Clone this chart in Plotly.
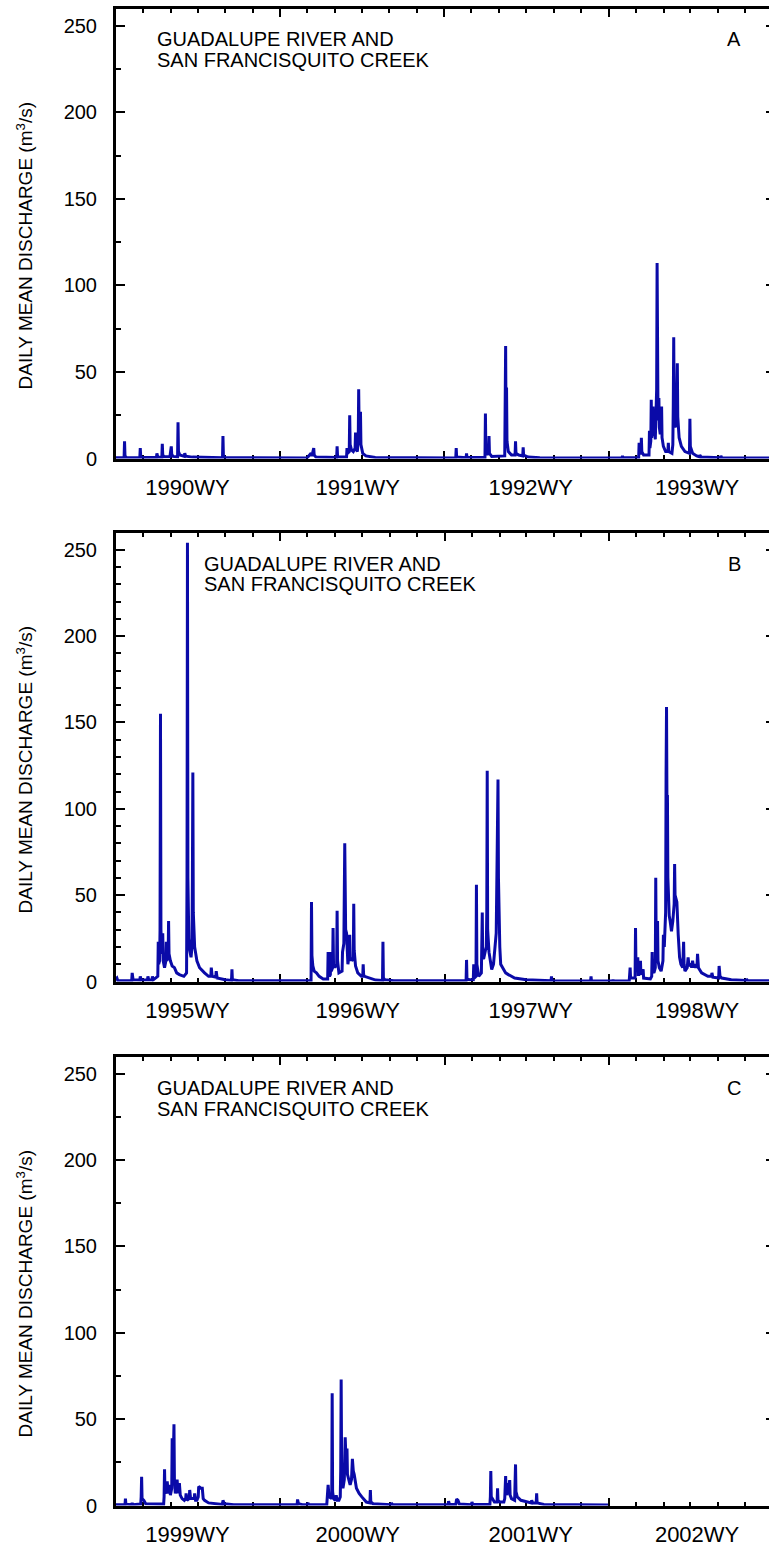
import plotly.graph_objects as go

# Daily mean discharge, Guadalupe River + San Francisquito Creek (m3/s)
# Panel A: water years 1990-1993
flow_1990_1993 = [
    ("1989-10-01", 0.4), ("1989-10-19", 0.5), ("1989-10-20", 10), ("1989-10-21", 1.5), ("1989-10-24", 0.6),
    ("1989-11-23", 0.5), ("1989-11-24", 6), ("1989-11-25", 1.2), ("1989-11-28", 0.6),
    ("1989-12-30", 0.6), ("1989-12-31", 3), ("1990-01-02", 0.8),
    ("1990-01-11", 0.7), ("1990-01-12", 8.5), ("1990-01-13", 2), ("1990-01-16", 1),
    ("1990-01-29", 1), ("1990-01-31", 4), ("1990-02-01", 7), ("1990-02-02", 2.5), ("1990-02-05", 1.2),
    ("1990-02-15", 1), ("1990-02-16", 21), ("1990-02-17", 4), ("1990-02-20", 2),
    ("1990-03-02", 1.2), ("1990-03-03", 3), ("1990-03-05", 1.3), ("1990-03-20", 0.8),
    ("1990-05-26", 0.4), ("1990-05-27", 13), ("1990-05-28", 1.5), ("1990-06-01", 0.4),
    ("1990-11-30", 0.3), ("1990-12-09", 3), ("1990-12-11", 1.5), ("1990-12-15", 6), ("1990-12-16", 2), ("1990-12-20", 0.8),
    ("1991-02-04", 0.6), ("1991-02-05", 7), ("1991-02-06", 1.5), ("1991-02-10", 0.8),
    ("1991-02-26", 0.8), ("1991-02-27", 6), ("1991-02-28", 3), ("1991-03-04", 4), ("1991-03-05", 25),
    ("1991-03-06", 8), ("1991-03-09", 5), ("1991-03-13", 4), ("1991-03-17", 6), ("1991-03-18", 15),
    ("1991-03-19", 6), ("1991-03-22", 4), ("1991-03-24", 10), ("1991-03-25", 40), ("1991-03-26", 18),
    ("1991-03-28", 12), ("1991-03-29", 27), ("1991-03-30", 8), ("1991-04-03", 3), ("1991-04-10", 1.5),
    ("1991-05-01", 0.6),
    ("1991-10-27", 0.3), ("1991-10-28", 6), ("1991-10-29", 0.8),
    ("1991-11-19", 0.4), ("1991-11-20", 3), ("1991-11-21", 0.6),
    ("1991-12-31", 0.6), ("1992-01-01", 26), ("1992-01-02", 4), ("1992-01-05", 2), ("1992-01-08", 4),
    ("1992-01-09", 13), ("1992-01-10", 3), ("1992-01-15", 1.2),
    ("1992-02-13", 1.5), ("1992-02-14", 30), ("1992-02-15", 65), ("1992-02-16", 12), ("1992-02-17", 41),
    ("1992-02-18", 10), ("1992-02-21", 4), ("1992-02-28", 2),
    ("1992-03-07", 2), ("1992-03-08", 10), ("1992-03-09", 3), ("1992-03-15", 2),
    ("1992-03-24", 1.5), ("1992-03-25", 6.5), ("1992-03-26", 2), ("1992-04-05", 0.8), ("1992-05-01", 0.4),
    ("1992-10-31", 0.3), ("1992-11-01", 1.5), ("1992-11-02", 0.4),
    ("1992-12-07", 0.5), ("1992-12-08", 9), ("1992-12-09", 3), ("1992-12-12", 3), ("1992-12-13", 12),
    ("1992-12-14", 4), ("1992-12-18", 2),
    ("1992-12-30", 2), ("1992-12-31", 16), ("1993-01-01", 6), ("1993-01-03", 10), ("1993-01-04", 34),
    ("1993-01-05", 12), ("1993-01-07", 16), ("1993-01-08", 30), ("1993-01-09", 14), ("1993-01-11", 20),
    ("1993-01-13", 11), ("1993-01-15", 24), ("1993-01-16", 40), ("1993-01-17", 113), ("1993-01-18", 42),
    ("1993-01-19", 26), ("1993-01-20", 22), ("1993-01-21", 35), ("1993-01-22", 18), ("1993-01-24", 14),
    ("1993-01-26", 20), ("1993-01-27", 30), ("1993-01-28", 12), ("1993-01-31", 7), ("1993-02-05", 4),
    ("1993-02-10", 4), ("1993-02-11", 9), ("1993-02-12", 4), ("1993-02-19", 3), ("1993-02-21", 8),
    ("1993-02-22", 30), ("1993-02-23", 70), ("1993-02-24", 28), ("1993-02-26", 18), ("1993-03-01", 22),
    ("1993-03-03", 55), ("1993-03-04", 24), ("1993-03-07", 12), ("1993-03-12", 7), ("1993-03-20", 4),
    ("1993-03-30", 3), ("1993-03-31", 23), ("1993-04-01", 7), ("1993-04-06", 3), ("1993-04-15", 1.5),
    ("1993-04-21", 1), ("1993-04-22", 2), ("1993-04-25", 0.8),
    ("1993-06-07", 0.4), ("1993-06-08", 1.5), ("1993-06-10", 0.4), ("1993-09-30", 0.3),
]

# Panel B: water years 1995-1998
flow_1995_1998 = [
    ("1994-10-01", 1.5), ("1994-10-03", 2), ("1994-10-05", 0.5),
    ("1994-11-05", 0.6), ("1994-11-06", 5), ("1994-11-08", 1),
    ("1994-11-23", 0.8), ("1994-11-24", 3), ("1994-11-26", 0.8),
    ("1994-12-10", 0.8), ("1994-12-11", 3), ("1994-12-13", 0.8),
    ("1994-12-20", 0.8), ("1994-12-21", 3), ("1994-12-23", 1),
    ("1995-01-02", 3), ("1995-01-03", 23), ("1995-01-04", 10), ("1995-01-06", 12), ("1995-01-07", 30),
    ("1995-01-08", 155), ("1995-01-09", 30), ("1995-01-11", 16), ("1995-01-13", 28), ("1995-01-14", 12),
    ("1995-01-17", 8), ("1995-01-20", 12), ("1995-01-21", 23), ("1995-01-22", 12), ("1995-01-25", 14),
    ("1995-01-26", 35), ("1995-01-27", 16), ("1995-01-30", 12), ("1995-02-03", 9), ("1995-02-08", 8),
    ("1995-02-13", 5), ("1995-02-19", 4), ("1995-03-01", 3),
    ("1995-03-07", 5), ("1995-03-08", 60), ("1995-03-09", 254), ("1995-03-10", 60), ("1995-03-12", 25),
    ("1995-03-14", 18), ("1995-03-17", 14), ("1995-03-19", 20), ("1995-03-20", 60), ("1995-03-21", 121),
    ("1995-03-22", 40), ("1995-03-25", 20), ("1995-03-30", 12), ("1995-04-05", 8), ("1995-04-16", 5),
    ("1995-04-25", 3), ("1995-04-30", 3), ("1995-05-01", 8), ("1995-05-03", 3), ("1995-05-11", 2.5),
    ("1995-05-12", 6), ("1995-05-14", 2), ("1995-06-01", 1),
    ("1995-06-15", 0.6), ("1995-06-16", 7), ("1995-06-17", 1), ("1995-07-01", 0.4),
    ("1995-12-09", 0.4), ("1995-12-10", 46), ("1995-12-11", 15), ("1995-12-13", 9), ("1995-12-16", 6),
    ("1995-12-21", 5), ("1995-12-27", 3), ("1996-01-05", 1.5),
    ("1996-01-15", 1.5), ("1996-01-16", 17), ("1996-01-17", 4), ("1996-01-19", 3), ("1996-01-21", 4),
    ("1996-01-22", 17), ("1996-01-23", 6), ("1996-01-26", 8), ("1996-01-27", 31), ("1996-01-28", 10),
    ("1996-01-31", 8), ("1996-02-04", 10), ("1996-02-05", 41), ("1996-02-06", 12), ("1996-02-09", 5),
    ("1996-02-16", 6), ("1996-02-17", 17), ("1996-02-20", 22), ("1996-02-21", 60), ("1996-02-22", 80),
    ("1996-02-23", 55), ("1996-02-24", 30), ("1996-02-26", 28), ("1996-02-29", 10), ("1996-03-02", 14),
    ("1996-03-04", 27), ("1996-03-05", 14), ("1996-03-08", 12), ("1996-03-09", 13), ("1996-03-12", 12),
    ("1996-03-13", 45), ("1996-03-14", 18), ("1996-03-17", 9), ("1996-03-22", 5), ("1996-03-30", 3),
    ("1996-04-02", 3), ("1996-04-03", 10), ("1996-04-04", 4), ("1996-04-06", 3), ("1996-04-19", 2),
    ("1996-05-01", 0.8), ("1996-05-16", 0.6), ("1996-05-17", 23), ("1996-05-18", 2), ("1996-05-21", 1),
    ("1996-06-10", 0.5),
    ("1996-11-18", 0.5), ("1996-11-19", 12.5), ("1996-11-20", 1.5), ("1996-11-25", 1),
    ("1996-12-04", 1), ("1996-12-05", 10), ("1996-12-06", 2), ("1996-12-10", 3), ("1996-12-11", 56),
    ("1996-12-12", 10), ("1996-12-14", 5), ("1996-12-16", 3), ("1996-12-22", 5), ("1996-12-23", 15),
    ("1996-12-24", 40), ("1996-12-25", 14), ("1996-12-27", 13), ("1996-12-31", 18), ("1997-01-02", 20),
    ("1997-01-03", 40), ("1997-01-04", 122), ("1997-01-05", 30), ("1997-01-08", 17), ("1997-01-11", 12),
    ("1997-01-14", 7), ("1997-01-18", 10), ("1997-01-21", 20), ("1997-01-24", 28), ("1997-01-26", 71),
    ("1997-01-28", 117), ("1997-01-29", 60), ("1997-01-30", 35), ("1997-02-01", 20), ("1997-02-03", 10),
    ("1997-02-08", 8), ("1997-02-14", 5), ("1997-02-20", 4), ("1997-03-06", 2), ("1997-04-01", 1),
    ("1997-05-26", 0.4), ("1997-05-27", 3), ("1997-05-28", 0.4),
    ("1997-08-22", 0.3), ("1997-08-23", 3), ("1997-08-24", 0.3),
    ("1997-10-10", 0.3), ("1997-10-11", 1), ("1997-10-12", 0.3),
    ("1997-11-16", 0.4), ("1997-11-18", 8), ("1997-11-19", 2), ("1997-11-29", 2), ("1997-11-30", 31),
    ("1997-12-01", 10), ("1997-12-03", 8), ("1997-12-05", 14), ("1997-12-06", 4), ("1997-12-08", 4),
    ("1997-12-10", 5), ("1997-12-11", 12), ("1997-12-12", 4), ("1997-12-17", 7), ("1997-12-18", 2),
    ("1998-01-02", 1.5), ("1998-01-05", 3), ("1998-01-06", 17), ("1998-01-07", 6), ("1998-01-10", 5),
    ("1998-01-13", 8), ("1998-01-14", 60), ("1998-01-15", 20), ("1998-01-17", 12), ("1998-01-18", 35),
    ("1998-01-19", 12), ("1998-01-22", 8), ("1998-01-26", 6), ("1998-01-30", 12), ("1998-01-31", 27),
    ("1998-02-02", 20), ("1998-02-04", 31), ("1998-02-05", 40), ("1998-02-06", 120), ("1998-02-07", 159),
    ("1998-02-08", 100), ("1998-02-09", 108), ("1998-02-10", 60), ("1998-02-11", 45), ("1998-02-13", 38),
    ("1998-02-15", 35), ("1998-02-18", 29), ("1998-02-21", 35), ("1998-02-22", 39), ("1998-02-24", 45),
    ("1998-02-25", 68), ("1998-02-26", 50), ("1998-03-02", 46), ("1998-03-03", 33), ("1998-03-05", 27),
    ("1998-03-08", 14), ("1998-03-11", 10), ("1998-03-15", 8), ("1998-03-16", 15), ("1998-03-17", 23),
    ("1998-03-18", 10), ("1998-03-20", 6), ("1998-03-25", 8), ("1998-03-27", 14), ("1998-03-29", 9),
    ("1998-04-02", 10), ("1998-04-04", 8), ("1998-04-06", 12), ("1998-04-08", 8), ("1998-04-11", 10),
    ("1998-04-14", 8), ("1998-04-16", 10), ("1998-04-17", 16), ("1998-04-19", 8), ("1998-04-26", 5),
    ("1998-05-10", 3), ("1998-05-18", 3), ("1998-05-19", 5), ("1998-05-21", 2.5), ("1998-06-03", 2),
    ("1998-06-04", 9), ("1998-06-06", 3), ("1998-06-10", 2), ("1998-07-01", 1), ("1998-08-03", 0.6),
    ("1998-08-04", 1.5), ("1998-08-06", 0.5), ("1998-09-30", 0.4),
]

# Panel C: water years 1999-2001 (record ends 2001-09-30)
flow_1999_2002 = [
    ("1998-10-01", 0.5), ("1998-10-21", 0.5), ("1998-10-22", 4), ("1998-10-23", 0.8),
    ("1998-11-05", 0.5), ("1998-11-06", 1.5), ("1998-11-07", 0.5),
    ("1998-11-25", 0.8), ("1998-11-26", 5), ("1998-11-27", 16.6), ("1998-11-28", 4), ("1998-12-02", 3),
    ("1998-12-06", 1),
    ("1999-01-15", 0.8), ("1999-01-16", 5), ("1999-01-17", 21), ("1999-01-18", 8), ("1999-01-21", 7),
    ("1999-01-23", 14), ("1999-01-25", 7), ("1999-01-28", 12), ("1999-01-30", 6), ("1999-02-02", 10),
    ("1999-02-03", 39), ("1999-02-05", 20), ("1999-02-07", 47), ("1999-02-08", 15), ("1999-02-10", 7),
    ("1999-02-12", 10), ("1999-02-14", 15), ("1999-02-16", 7), ("1999-02-19", 13), ("1999-02-21", 6),
    ("1999-02-25", 4), ("1999-03-02", 3), ("1999-03-05", 4), ("1999-03-06", 7), ("1999-03-08", 3),
    ("1999-03-13", 4), ("1999-03-14", 9), ("1999-03-16", 4), ("1999-03-20", 4), ("1999-03-24", 4),
    ("1999-03-25", 7), ("1999-03-27", 3), ("1999-03-30", 3), ("1999-04-02", 5), ("1999-04-03", 11),
    ("1999-04-06", 10), ("1999-04-08", 10), ("1999-04-11", 10), ("1999-04-13", 4), ("1999-04-16", 3),
    ("1999-04-25", 1.5), ("1999-05-26", 0.6), ("1999-05-27", 3), ("1999-05-30", 1), ("1999-06-20", 0.5),
    ("1999-07-15", 0.4),
    ("1999-11-08", 0.4), ("1999-11-09", 3.5), ("1999-11-11", 1), ("1999-11-20", 0.5),
    ("1999-12-01", 0.5), ("1999-12-02", 1.5), ("1999-12-04", 0.5),
    ("2000-01-13", 0.6), ("2000-01-14", 5), ("2000-01-16", 12), ("2000-01-18", 5), ("2000-01-24", 4),
    ("2000-01-25", 65), ("2000-01-26", 8), ("2000-01-28", 4), ("2000-02-01", 3), ("2000-02-03", 6),
    ("2000-02-05", 3), ("2000-02-09", 3), ("2000-02-12", 5), ("2000-02-13", 20), ("2000-02-14", 73),
    ("2000-02-15", 25), ("2000-02-17", 12), ("2000-02-18", 10), ("2000-02-21", 15), ("2000-02-22", 25),
    ("2000-02-23", 39.5), ("2000-02-25", 25), ("2000-02-27", 33), ("2000-02-28", 18), ("2000-03-02", 14),
    ("2000-03-05", 12), ("2000-03-08", 15), ("2000-03-10", 27), ("2000-03-12", 20), ("2000-03-14", 18),
    ("2000-03-19", 10), ("2000-03-25", 7), ("2000-03-31", 5), ("2000-04-10", 2), ("2000-04-18", 1.5),
    ("2000-04-19", 9), ("2000-04-20", 2), ("2000-04-25", 1), ("2000-06-04", 0.5), ("2000-06-05", 1.5),
    ("2000-06-07", 0.5),
    ("2000-10-09", 0.4), ("2000-10-10", 2.5), ("2000-10-12", 0.6), ("2000-10-26", 0.6), ("2000-10-28", 3.7),
    ("2000-10-31", 3), ("2000-11-03", 0.8), ("2000-11-30", 0.5), ("2000-12-01", 2), ("2000-12-03", 0.6),
    ("2001-01-10", 0.6), ("2001-01-11", 5), ("2001-01-12", 20), ("2001-01-13", 5), ("2001-01-15", 4),
    ("2001-01-20", 2), ("2001-01-26", 2), ("2001-01-27", 10), ("2001-01-28", 3), ("2001-02-01", 2),
    ("2001-02-10", 2), ("2001-02-12", 4), ("2001-02-14", 17), ("2001-02-15", 8), ("2001-02-17", 6),
    ("2001-02-18", 13), ("2001-02-20", 8), ("2001-02-23", 14.7), ("2001-02-24", 6), ("2001-02-27", 4),
    ("2001-03-06", 3), ("2001-03-07", 10), ("2001-03-08", 23.8), ("2001-03-09", 8), ("2001-03-12", 5),
    ("2001-03-20", 3), ("2001-04-03", 2), ("2001-04-12", 1.5), ("2001-04-13", 3), ("2001-04-15", 1.5),
    ("2001-04-23", 1.5), ("2001-04-24", 7), ("2001-04-25", 1.5), ("2001-05-10", 0.6), ("2001-09-30", 0.3),
]

# Water-year labels and where they sit along each time axis
wy_labels_a = ["1990WY", "1991WY", "1992WY", "1993WY"]
wy_label_dates_a = ["1990-03-09", "1991-03-23", "1992-04-11", "1993-04-16"]
wy_labels_b = ["1995WY", "1996WY", "1997WY", "1998WY"]
wy_label_dates_b = ["1995-03-09", "1996-03-22", "1997-04-11", "1998-04-16"]
wy_labels_c = ["1999WY", "2000WY", "2001WY", "2002WY"]
wy_label_dates_c = ["1999-03-09", "2000-03-22", "2001-04-11", "2002-04-16"]

panels = [
    dict(series=flow_1990_1993, start="1989-10-01", end="1993-09-23",
         labels=wy_labels_a, label_dates=wy_label_dates_a, letter="A",
         minor_dy=25, top=8.5, bottom=458.5, title_x=155),
    dict(series=flow_1995_1998, start="1994-10-01", end="1998-09-23",
         labels=wy_labels_b, label_dates=wy_label_dates_b, letter="B",
         minor_dy=10, top=532.5, bottom=981.5, title_x=202),
    dict(series=flow_1999_2002, start="1998-10-01", end="2002-09-23",
         labels=wy_labels_c, label_dates=wy_label_dates_c, letter="C",
         minor_dy=25, top=1056.5, bottom=1505.5, title_x=155),
]

W, H = 769, 1549
LEFT = 116
FONT = "Liberation Sans"
LINE_BLUE = "#0A0AA8"
Y_TITLE = "DAILY MEAN DISCHARGE (m<sup>3</sup>/s)"

fig = go.Figure()
layout = dict(
    width=W, height=H, margin=dict(l=0, r=0, t=0, b=0, autoexpand=False),
    paper_bgcolor="white", plot_bgcolor="white", showlegend=False,
    font=dict(family=FONT, color="black", size=20),
)
annotations = []

for i, p in enumerate(panels):
    n = i + 1
    xa, ya = f"x{n if n > 1 else ''}", f"y{n if n > 1 else ''}"
    xl, yr = f"x{n + 3}", f"y{n + 3}"
    dom_y = [1 - p["bottom"] / H, 1 - p["top"] / H]
    dom_x = [LEFT / W, 1.0]
    x_rng = [p["start"], p["end"]]
    y_rng = [0, 260]
    year0 = int(p["start"][:4])
    year_starts = [f"{year0 + k}-10-01" for k in range(0, 4)]

    dates = [d for d, _ in p["series"]]
    vals = [v for _, v in p["series"]]
    fig.add_trace(go.Scatter(x=dates, y=vals, mode="lines", xaxis=xa, yaxis=ya,
                             line=dict(color=LINE_BLUE, width=3), hoverinfo="skip"))
    # empty traces that attach the label axis and the right-hand tick axis
    fig.add_trace(go.Scatter(x=[], y=[], xaxis=xl, yaxis=ya, mode="lines"))
    fig.add_trace(go.Scatter(x=[], y=[], xaxis=xa, yaxis=yr, mode="lines"))

    key = lambda a, pre: pre + "axis" + a[1:]
    layout[key(xa, "x")] = dict(
        type="date", domain=dom_x, anchor=ya, range=x_rng, showgrid=False, zeroline=False,
        automargin=False,
        showline=True, linewidth=3, linecolor="black", mirror="ticks", layer="below traces",
        tickmode="array", tickvals=year_starts, ticks="inside", ticklen=8, tickwidth=2,
        tickcolor="black", showticklabels=False,
        minor=dict(ticks="inside", dtick="M2", tick0=p["start"], ticklen=4, tickwidth=2,
                   tickcolor="black", showgrid=False),
    )
    layout[key(xl, "x")] = dict(
        type="date", domain=dom_x, anchor=ya, overlaying=xa, range=x_rng, side="bottom",
        showgrid=False, zeroline=False, showline=False, ticks="", automargin=False,
        tickmode="array", tickvals=p["label_dates"], ticktext=p["labels"],
        tickfont=dict(family=FONT, size=22, color="black"), ticklabelstandoff=13,
    )
    layout[key(ya, "y")] = dict(
        domain=dom_y, anchor=xa, range=y_rng, showgrid=False, zeroline=False,
        automargin=False,
        showline=True, linewidth=3, linecolor="black", layer="below traces",
        tickmode="array", tickvals=[0, 50, 100, 150, 200, 250], ticks="inside", ticklen=9,
        tickwidth=2, tickcolor="black", tickfont=dict(family=FONT, size=20, color="black"),
        ticklabelstandoff=12,
        minor=dict(ticks="inside", dtick=p["minor_dy"], tick0=0, ticklen=5, tickwidth=2,
                   tickcolor="black", showgrid=False),
    )
    layout[key(yr, "y")] = dict(
        domain=dom_y, anchor=xa, overlaying=ya, side="right", range=y_rng,
        showgrid=False, zeroline=False, showline=False, showticklabels=False,
        automargin=False,
        tickmode="array", tickvals=[50, 100, 150, 200, 250], ticks="inside",
        ticklen=3, tickwidth=2, tickcolor="black",
    )

    # vertical axis title, set a little below the panel centre
    annotations.append(dict(
        text=Y_TITLE, xref="paper", yref="paper", x=24 / W,
        y=1 - (p["top"] + 237) / H, xanchor="center", yanchor="middle", textangle=-90,
        showarrow=False, font=dict(family=FONT, size=19, color="black")))
    for j, line in enumerate(["GUADALUPE RIVER AND", "SAN FRANCISQUITO CREEK"]):
        annotations.append(dict(
            text=line, xref="paper", yref="paper", x=p["title_x"] / W,
            y=1 - (p["top"] + 31 + 21 * j) / H, xanchor="left", yanchor="middle",
            showarrow=False, font=dict(family=FONT, size=20, color="black")))
    annotations.append(dict(
        text=p["letter"], xref="paper", yref="paper", x=734 / W,
        y=1 - (p["top"] + 31) / H, xanchor="center", yanchor="middle",
        showarrow=False, font=dict(family=FONT, size=20, color="black")))

layout["annotations"] = annotations
fig.update_layout(**layout)
fig.write_html("out.html")
